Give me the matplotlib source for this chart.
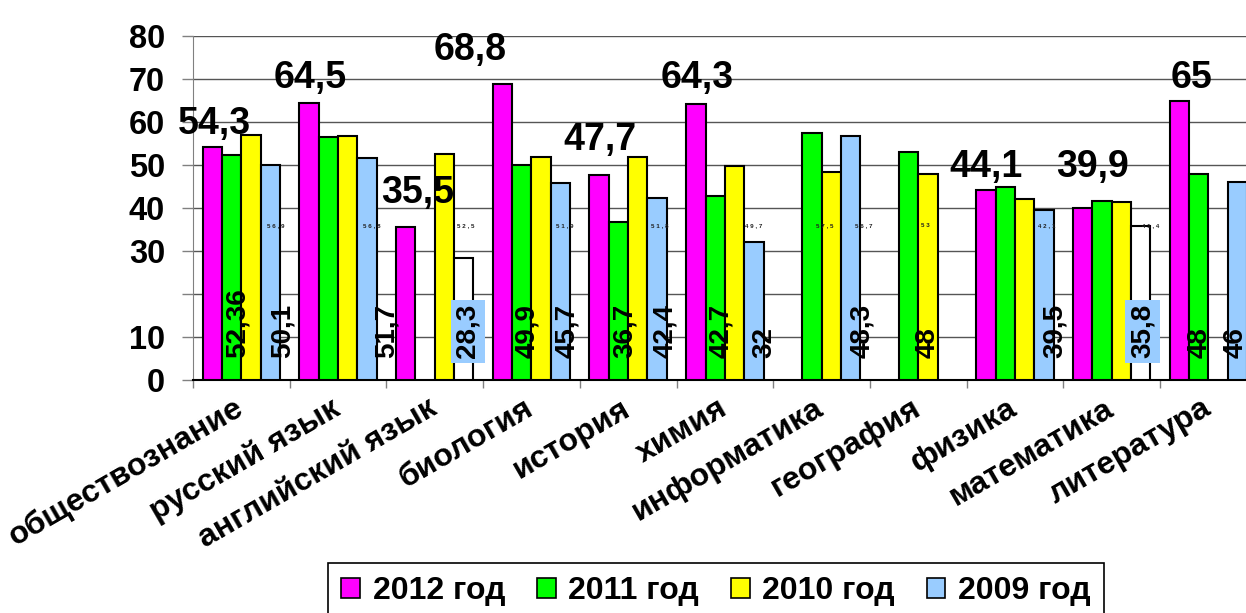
import numpy as np
import matplotlib
matplotlib.use("Agg")
import matplotlib.pyplot as plt
from matplotlib.patches import Patch

plt.rcParams["font.family"] = ["Liberation Sans", "DejaVu Sans"]
plt.rcParams["font.weight"] = "bold"

nan = np.nan

categories = ["обществознание", "русский язык", "английский язык", "биология",
              "история", "химия", "информатика", "география", "физика",
              "математика", "литература"]
series_names = ["2012 год", "2011 год", "2010 год", "2009 год"]
y2012 = [54.3, 64.5, 35.5, 68.8, 47.7, 64.3, nan, nan, 44.1, 39.9, 65]
y2011 = [52.36, 56.6, nan, 49.9, 36.7, 42.7, 57.5, 53, 44.8, 41.7, 48]
y2010 = [56.9, 56.8, 52.5, 51.9, 51.8, 49.7, 48.3, 48, 42.1, 41.4, nan]
y2009 = [50.1, 51.7, 28.3, 45.7, 42.4, 32, 56.7, nan, 39.5, 35.8, 46]
# 2009 bars drawn without fill in the original
white_2009 = ["английский язык", "математика"]

colors = ["#FF00FF", "#00FF00", "#FFFF00", "#99CCFF"]


def fmt(v):
    return f"{v:g}".replace(".", ",")


W, H = 1246, 613
fig = plt.figure(figsize=(W / 100, H / 100), dpi=100)
ax = fig.add_axes([193 / W, 1 - 380 / H, 11 * 96.7 / W, 344 / H])

x = np.arange(len(categories)) + 0.5
width = 0.2
series = [y2012, y2011, y2010, y2009]

for k, vals in enumerate(series):
    fc = [colors[k]] * len(categories)
    if k == 3:
        fc = ["white" if c in white_2009 else colors[k] for c in categories]
    ax.bar(x + (k - 1.5) * width, vals, width, color=fc, edgecolor="black",
           linewidth=1.5, zorder=3)

ax.set_xlim(0, len(categories))
ax.set_ylim(0, 80)
ax.set_yticks(range(0, 81, 10))
ax.set_yticklabels(["" if t == 20 else str(t) for t in range(0, 81, 10)])
ax.tick_params(axis="y", length=8, width=1, color="#808080", pad=12, labelsize=23.5)
ax.set_xticks(x)
ax.set_xticklabels(categories, rotation=30, ha="right", va="center",
                   rotation_mode="anchor", fontsize=23)
ax.tick_params(axis="x", which="major", length=0, pad=19)
ax.set_xticks(np.arange(len(categories) + 1), minor=True)
ax.tick_params(axis="x", which="minor", length=6, width=1, color="#808080")
for s in ["top", "right"]:
    ax.spines[s].set_visible(False)
ax.spines["left"].set_color("#808080")
ax.spines["bottom"].set_color("black")
ax.spines["bottom"].set_linewidth(1.5)
ax.yaxis.grid(True, color="#555555", linewidth=1.0)
ax.set_axisbelow(True)

# big labels above the 2012 bars: (dx px, gap px)
top_nudge = [(2, 13), (1, 15), (12, 24), (-32, 24), (1, 25), (1.5, 16), None, None,
             (0, 13), (10, 31), (12, 13)]
for i, v in enumerate(y2012):
    if top_nudge[i] is None:
        continue
    dx, gap = top_nudge[i]
    ax.annotate(fmt(v), (x[i] - 1.5 * width, v), xytext=(dx * 0.72, gap * 0.72),
                textcoords="offset points", ha="center", va="baseline",
                fontsize=27, zorder=6)

# rotated labels at the bottom: (category, series, slot, dx px)
bottom_labels = [(0, 1, 1, 4), (0, 3, 3, 10), (1, 3, 3, 18), (2, 3, 3, 2),
                 (3, 1, 1, 3), (3, 3, 3, 5), (4, 1, 1, 4), (4, 3, 3, 6),
                 (5, 1, 1, 4), (5, 3, 3, 8), (6, 2, 3, 10), (7, 2, 2, -2),
                 (8, 3, 3, 9), (9, 3, 3, 0), (10, 1, 1, -1.5), (10, 3, 3, -4)]
for ci, si, slot, dx in bottom_labels:
    v = series[si][ci]
    box = None
    if si == 3 and categories[ci] in white_2009:
        box = dict(facecolor=colors[3], edgecolor="none", pad=3)
    ax.annotate(fmt(v), (x[ci] + (slot - 1.5) * width, 5),
                xytext=((dx + 2) * 0.72, 0), textcoords="offset points",
                rotation=90, ha="center", va="bottom", fontsize=20,
                bbox=box, zorder=6)

# tiny leftover labels around the middle of the chart
tiny_labels = [(0, 2, 3, 5), (1, 2, 3, 5), (2, 2, 3, 2), (3, 2, 3, 4),
               (4, 2, 3, 3), (5, 2, 3, 0), (6, 1, 2, -6), (6, 3, 3, 13),
               (7, 1, 2, -3), (8, 2, 3, 3), (9, 2, 3, 10)]
for ci, si, slot, dx in tiny_labels:
    v = series[si][ci]
    ax.annotate(" ".join(fmt(v)), (x[ci] + (slot - 1.5) * width, 36),
                xytext=(dx * 0.72, 0), textcoords="offset points",
                ha="center", va="center", fontsize=4.5, color="#222222", zorder=6)

handles = [Patch(facecolor=c, edgecolor="black", linewidth=1.2) for c in colors]
leg = fig.legend(handles, series_names, loc="upper center",
                 bbox_to_anchor=(716 / W, 1 - 563 / H), ncol=4,
                 prop={"size": 23, "weight": "bold"}, frameon=True,
                 fancybox=False, edgecolor="black", framealpha=1,
                 handlelength=0.58, handleheight=0.58, handletextpad=0.4,
                 columnspacing=1.0, borderpad=0.42, borderaxespad=0)
leg.get_frame().set_linewidth(1.2)

fig.savefig("out.png", dpi=100)
